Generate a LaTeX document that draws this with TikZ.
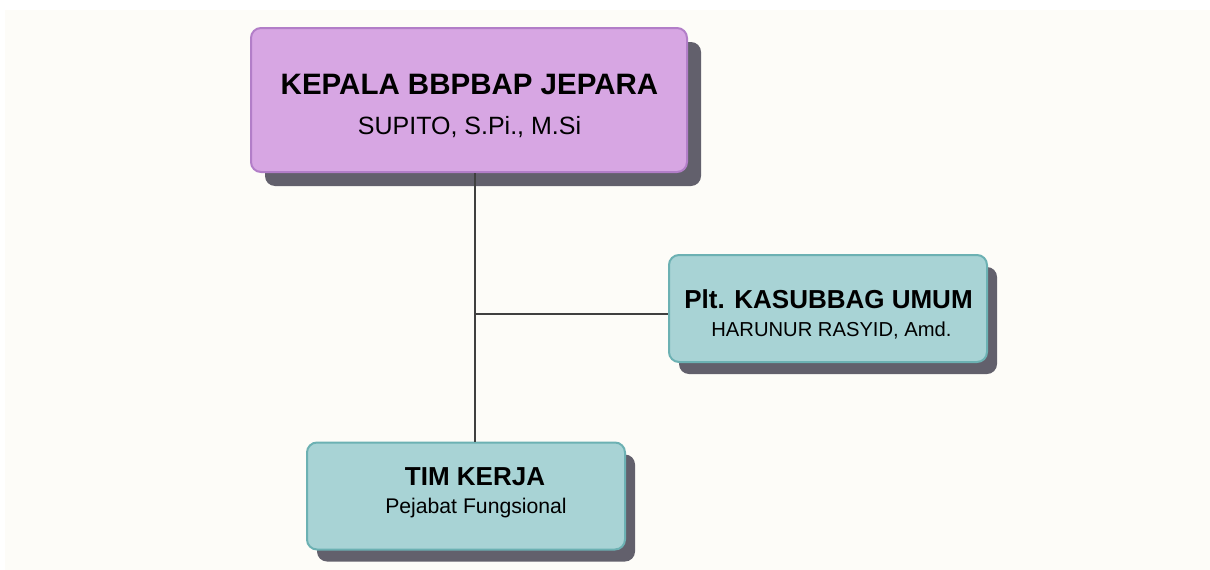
\documentclass[tikz,border=0pt]{standalone}
\usepackage{fontspec}
\setmainfont{Liberation Sans}
\usepackage{tikz}
\usetikzlibrary{positioning,shadows}

\definecolor{bgcream}{HTML}{FDFCF8}
\definecolor{headfill}{HTML}{D7A6E3}
\definecolor{headline}{HTML}{B27EC8}
\definecolor{unitfill}{HTML}{A8D3D5}
\definecolor{unitline}{HTML}{6CB1B3}
\definecolor{shadowgray}{HTML}{62606C}
\definecolor{linkgray}{HTML}{404040}

\begin{document}
\begin{tikzpicture}[x=1pt,y=-1pt,
    box/.style={rectangle,rounded corners=10pt,line width=2pt,inner sep=0pt},
    head/.style={box,fill=headfill,draw=headline,minimum width=436pt,minimum height=144pt,
        general shadow={shadow xshift=14pt,shadow yshift=-14pt,fill=shadowgray}},
    unit/.style={box,fill=unitfill,draw=unitline,minimum width=318pt,minimum height=107pt,
        general shadow={shadow xshift=10pt,shadow yshift=-12pt,fill=shadowgray}},
    title/.style={font=\bfseries\fontsize{#1}{#1}\selectfont,inner sep=0pt,anchor=base},
    person/.style={font=\fontsize{#1}{#1}\selectfont,inner sep=0pt,anchor=base},
    link/.style={draw=linkgray,line width=1.4pt}]
    \useasboundingbox (0,0) rectangle (1210,570);
    \fill[bgcream] (5,10) rectangle (1210,570);

    \node[head] (kepala) at (469,100) {};
    \node[unit] (kasubbag) at (828,308.5) {};
    \node[unit] (timkerja) at (466,496) {};

    \node[title=29.5] (kepalatitle) at (469.5,94) {KEPALA BBPBAP JEPARA};
    \node[person=25] (kepalaname) at (469.5,134) {SUPITO, S.Pi., M.Si};
    \node[title=26] (kasubbagtitle) at (828.5,308) {Plt. KASUBBAG UMUM};
    \node[person=20.2] (kasubbagname) at (831.5,336) {HARUNUR RASYID, Amd.};
    \node[title=26] (timtitle) at (475,485) {TIM KERJA};
    \node[person=21.2] (timname) at (476,513) {Pejabat Fungsional};

    \coordinate (junction) at (475,314);
    \path[link]
        (kepala.south -| junction) -- (timkerja.north -| junction)
        (junction) -- (junction -| kasubbag.west);
\end{tikzpicture}
\end{document}
